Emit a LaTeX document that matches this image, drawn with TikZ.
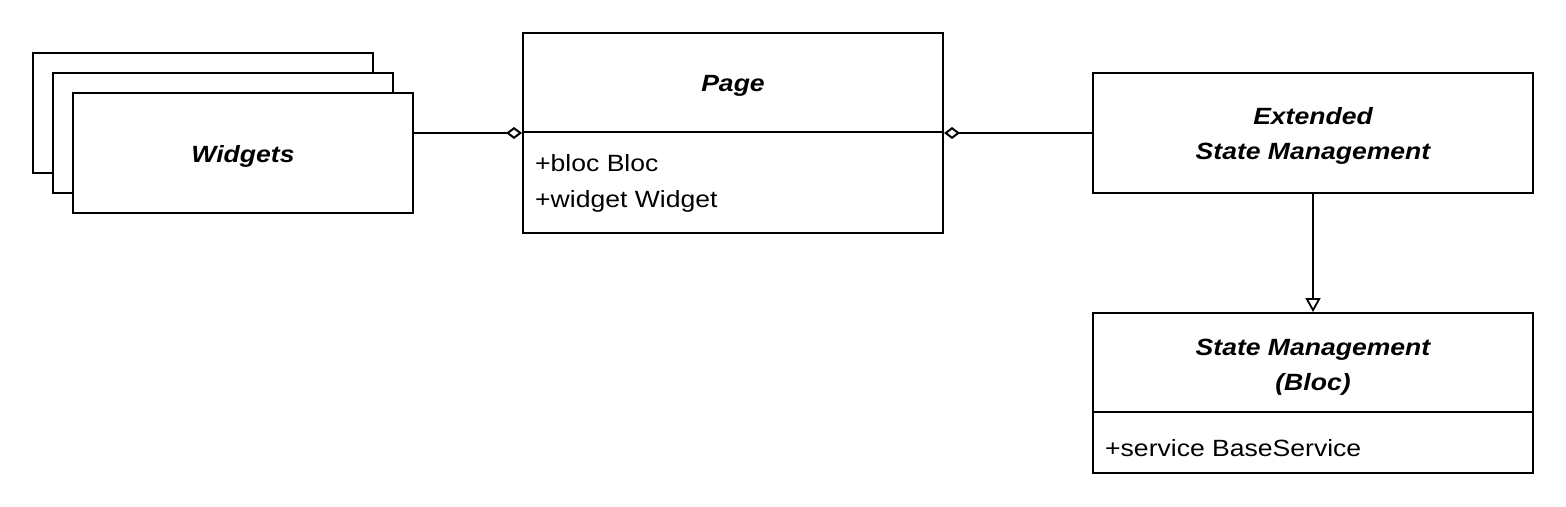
\documentclass[tikz,border=0pt]{standalone}
\usepackage{fontspec}
\setmainfont{Liberation Sans}[FakeStretch=1.13]
\usetikzlibrary{arrows.meta}
\tikzset{
  box/.style={draw=black, line width=2pt, fill=white, rectangle, inner sep=0pt},
  ttl/.style={font=\fontsize{23.5}{34.5}\selectfont\bfseries\itshape, align=center, inner sep=0pt},
  attr/.style={font=\fontsize{23.5}{36}\selectfont, anchor=base west, inner sep=0pt},
  conn/.style={line width=2pt, draw=black},
  aggr/.tip={Diamond[open, length=16pt, width=12pt, line width=2pt]},
  gen/.tip={Triangle[open, length=14pt, width=15pt, line width=1.8pt]}
}
\begin{document}
\begin{tikzpicture}[x=1pt, y=-1pt]
\useasboundingbox (0,0) rectangle (1566,506);
% Widgets stack
\node[box, minimum width=340pt, minimum height=120pt] (w1) at (203,113) {};
\node[box, minimum width=340pt, minimum height=120pt] (w2) at (223,133) {};
\node[box, minimum width=340pt, minimum height=120pt] (w3) at (243,153) {};
\node[ttl, anchor=base] (wt) at (243,162) {Widgets};
% Page
\node[box, minimum width=420pt, minimum height=200pt] (page) at (733,133) {};
\draw[conn] (523,132) -- (943,132);
\node[ttl, anchor=base] (pt) at (733,91) {Page};
\node[attr] (pa1) at (535,171) {+bloc Bloc};
\node[attr] (pa2) at (535,207) {+widget Widget};
% Extended State Management
\node[box, minimum width=440pt, minimum height=120pt] (ext) at (1313,133) {};
\node[ttl] (et) at (1313,136) {Extended\\State Management};
% State Management (Bloc)
\node[box, minimum width=440pt, minimum height=160pt] (sm) at (1313,393) {};
\draw[conn] (1093,412) -- (1533,412);
\node[ttl] (st) at (1313,367) {State Management\\(Bloc)};
\node[attr] (sa1) at (1105,456) {+service BaseService};
% connectors
\draw[conn, -{aggr}] ([yshift=20pt]w3.east) -- (page.west);
\draw[conn, {aggr}-] (page.east) -- (ext.west);
\draw[conn, -{gen}] (ext.south) -- (sm.north);
\end{tikzpicture}
\end{document}
